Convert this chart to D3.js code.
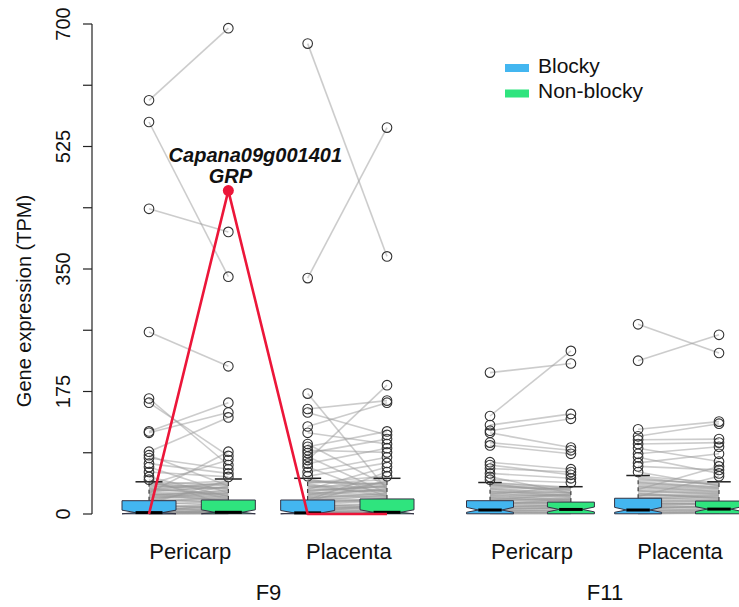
<!DOCTYPE html>
<html>
<head>
    <title>GRP expression</title>
    <script src="https://d3js.org/d3.v7.min.js"></script>
    <style>
        body { margin: 0; background: #fff; }
        text { font-family: "Liberation Sans", Arial, sans-serif; fill: #111; }
    </style>
</head>
<body>
    <svg id="chart" width="739" height="607"></svg>

    <script>

// paired TPM values per gene (index i = same gene in Blocky and Non-blocky)
var f9PericarpBlocky = [591, 560, 436, 260, 165, 159, 118, 116, 89, 84, 80, 72, 67, 60, 53, 49, 30, 42,
    0.5, 1, 2, 3, 1.5, 4, 5, 6, 8, 10, 12, 14, 16, 18, 20, 22, 25, 27, 30, 32, 35, 38, 40, 42, 44, 46,
    0.8, 2.5, 7, 9, 13, 24, 28, 34, 37, 11, 3.5, 19, 45, 15,
    0.2, 1.2, 4.5, 17, 21, 26, 31, 36, 41, 23, 29, 33];
var f9PericarpNonBlocky = [694, 339, 403, 211, 70, 83, 159, 145, 138, 40, 64, 58, 30, 53, 25, 12, 89, 77,
    1, 0.5, 3, 2, 4, 6, 3, 8, 5, 12, 9, 18, 13, 22, 16, 27, 20, 33, 24, 38, 29, 44, 35, 47, 36, 41,
    2, 1, 10, 15, 7, 31, 19, 45, 26, 2, 14, 40, 22, 48,
    0.8, 5, 1.5, 25, 17, 34, 28, 42, 37, 30, 21, 39];

var f9PlacentaBlocky = [672, 337, 172, 150, 145, 125, 116, 100, 96, 91, 87, 82, 77, 72, 67, 60, 54, 35, 20, 45,
    1, 0.5, 2, 3, 4, 2.5, 6, 5, 9, 11, 8, 14, 17, 13, 21, 19, 26, 23, 31, 28, 36, 33, 41, 38, 47, 44, 49,
    1.5, 7, 12, 16, 24, 30, 39, 10, 3, 27, 43, 18, 50,
    0.3, 2.2, 15, 22, 29, 34, 40, 46, 25, 32];
var f9PlacentaNonBlocky = [368, 552, 35, 162, 113, 159, 100, 40, 118, 88, 107, 30, 184, 94, 25, 81, 73, 67, 60, 54,
    0.5, 2, 1, 4, 3, 6, 5, 9, 7, 14, 12, 10, 21, 19, 17, 26, 23, 30, 27, 35, 32, 40, 37, 45, 42, 49, 38,
    3, 11, 8, 22, 18, 34, 29, 16, 13, 46, 25, 48, 31,
    1.2, 0.4, 20, 28, 24, 39, 33, 43, 36, 41];

var f11PericarpBlocky = [202, 140, 127, 119, 116, 102, 98, 74, 70, 65, 58, 53, 49,
    1, 2, 3, 5, 4, 6, 8, 7, 10, 12, 9, 15, 18, 14, 21, 24, 19, 27, 30, 26, 33, 36, 31, 40, 43, 38, 45,
    2.5, 11, 17, 23, 29, 35, 42, 6.5, 13, 20, 28,
    0.4, 16, 22, 25, 32, 37, 41, 44];
var f11PericarpNonBlocky = [215, 233, 143, 136, 95, 91, 86, 64, 56, 60, 51, 30, 45,
    0.5, 3, 2, 4, 6, 5, 7, 9, 8, 10, 13, 11, 14, 17, 15, 19, 22, 20, 24, 27, 25, 28, 31, 33, 30, 36, 38,
    1.5, 12, 16, 18, 23, 26, 35, 9.5, 21, 29, 39,
    1, 13, 18, 21, 26, 30, 34, 37];

var f11PlacentaBlocky = [271, 219, 121, 111, 106, 100, 94, 86, 81, 73, 68, 60, 35, 25,
    0.5, 2, 3, 4, 6, 5, 8, 10, 7, 13, 11, 16, 19, 15, 23, 21, 27, 30, 26, 34, 38, 32, 42, 46, 40, 50, 54,
    1.5, 9, 14, 18, 24, 29, 36, 48, 12, 22, 44,
    0.8, 17, 28, 33, 39, 45, 52];
var f11PlacentaNonBlocky = [230, 256, 132, 129, 107, 102, 75, 96, 58, 86, 63, 40, 68, 54,
    1, 3, 2, 5, 4, 7, 6, 9, 12, 10, 8, 14, 17, 13, 20, 18, 24, 22, 27, 30, 33, 29, 36, 39, 35, 42, 45,
    2.5, 11, 16, 19, 21, 26, 31, 44, 15, 25, 38,
    1.5, 14, 23, 28, 32, 37, 41];

// box statistics, boxes in order F9 Per B/NB, F9 Pla B/NB, F11 Per B/NB, F11 Pla B/NB
var boxQ1 = [0.3, 0.3, 0.3, 0.3, 0.3, 0.3, 0.3, 0.3];
var boxMedian = [2.0, 2.4, 1.6, 2.4, 5.7, 6.5, 5.7, 7.0];
var boxQ3 = [19, 20, 20, 21.5, 19, 17, 22.5, 18.5];
var boxWhisker = [46, 50, 51, 51, 45, 39, 55, 46];
var notchLo = [0.3, 0.3, 0.3, 0.3, 2.4, 3.0, 2.4, 3.5];
var notchHi = [5.5, 6.0, 5.0, 6.0, 9.5, 10.0, 9.5, 10.5];

// highlighted gene, F9 Pericarp B, Pericarp NB, Placenta B, Placenta NB
var grpGene = ["Capana09g001401", "GRP"];
var grpValues = [0, 462, 0, 0];

var families = ["F9", "F11"];
var tissues = ["Pericarp", "Placenta"];
var genotypes = ["Blocky", "Non-blocky"];
var yTicks = [0, 175, 350, 525, 700];

var colors = { "Blocky": "#43b6f0", "Non-blocky": "#2fe47e" };

var pairs = [
    [f9PericarpBlocky, f9PericarpNonBlocky],
    [f9PlacentaBlocky, f9PlacentaNonBlocky],
    [f11PericarpBlocky, f11PericarpNonBlocky],
    [f11PlacentaBlocky, f11PlacentaNonBlocky]
];

// layout: two panels, positions like R's boxplot(at=...)
var panels = [
    { family: "F9", at: [1, 2, 3, 4], range: [149, 387], boxW: 54 },
    { family: "F11", at: [1, 2.06, 2.94, 4], range: [490, 719], boxW: 47 }
];

var svg = d3.select("#chart");
var y = d3.scaleLinear().domain([0, 700]).range([514, 24]);

// y axis
var yAxis = svg.append("g").attr("transform", "translate(92,0)");
yAxis.append("line").attr("x1", 0).attr("x2", 0).attr("y1", y(0)).attr("y2", y(700))
    .attr("stroke", "#222").attr("stroke-width", 1.2);
yAxis.selectAll(".tk").data(d3.range(0, 701, 87.5)).enter().append("line")
    .attr("x1", -9).attr("x2", 0).attr("y1", function (d) { return y(d) }).attr("y2", function (d) { return y(d) })
    .attr("stroke", "#222").attr("stroke-width", 1.2);
yAxis.selectAll("text").data(yTicks).enter().append("text")
    .attr("transform", function (d) { return "translate(-22," + y(d) + ") rotate(-90)" })
    .attr("text-anchor", "middle").attr("font-size", 20)
    .text(function (d) { return d });

svg.append("text").attr("transform", "translate(31,301) rotate(-90)")
    .attr("text-anchor", "middle").attr("font-size", 20)
    .text("Gene expression (TPM)");

var boxIndex = 0;
var centers = [];
panels.forEach(function (p, pi) {
    var x = d3.scaleLinear().domain([1, 4]).range(p.range);
    var xs = p.at.map(function (a) { return x(a) });
    var g = svg.append("g");

    // gene lines
    tissues.forEach(function (t, ti) {
        var pr = pairs[pi * 2 + ti];
        var x0 = xs[ti * 2], x1 = xs[ti * 2 + 1];
        g.append("g").selectAll("line").data(d3.range(pr[0].length)).enter().append("line")
            .attr("x1", x0).attr("x2", x1)
            .attr("y1", function (i) { return y(pr[0][i]) })
            .attr("y2", function (i) { return y(pr[1][i]) })
            .attr("stroke", "#9a9a9a").attr("stroke-opacity", 0.5).attr("stroke-width", 1.6);
    });

    // boxes
    tissues.forEach(function (t, ti) {
        genotypes.forEach(function (gt, gi) {
            var k = boxIndex++;
            var cx = xs[ti * 2 + gi];
            var hw = p.boxW / 2, qw = p.boxW / 4;
            centers.push(cx);

            g.append("line").attr("x1", cx).attr("x2", cx)
                .attr("y1", y(boxQ3[k])).attr("y2", y(boxWhisker[k]))
                .attr("stroke", "#222").attr("stroke-dasharray", "4,3").attr("stroke-width", 1);
            g.append("line").attr("x1", cx - qw).attr("x2", cx + qw)
                .attr("y1", y(boxWhisker[k])).attr("y2", y(boxWhisker[k]))
                .attr("stroke", "#222").attr("stroke-width", 1.5);

            var pts = [
                [cx - hw, boxQ1[k]], [cx - hw, notchLo[k]], [cx - qw, boxMedian[k]], [cx - hw, notchHi[k]],
                [cx - hw, boxQ3[k]], [cx + hw, boxQ3[k]], [cx + hw, notchHi[k]], [cx + qw, boxMedian[k]],
                [cx + hw, notchLo[k]], [cx + hw, boxQ1[k]]
            ];
            g.append("path")
                .attr("d", d3.line().x(function (d) { return d[0] }).y(function (d) { return y(d[1]) })(pts) + "Z")
                .attr("fill", colors[gt]).attr("stroke", "#334").attr("stroke-width", 1);
            g.append("line").attr("x1", cx - qw).attr("x2", cx + qw)
                .attr("y1", y(boxMedian[k])).attr("y2", y(boxMedian[k]))
                .attr("stroke", "#000").attr("stroke-width", 3);

            var vals = pairs[pi * 2 + ti][gi].filter(function (v) { return v > boxWhisker[k] });
            g.append("g").selectAll("circle").data(vals).enter().append("circle")
                .attr("cx", cx).attr("cy", function (d) { return y(d) }).attr("r", 4.8)
                .attr("fill", "none").attr("stroke", "#333").attr("stroke-width", 1.1);
        });

        svg.append("text").attr("x", (xs[ti * 2] + xs[ti * 2 + 1]) / 2 + 1.5).attr("y", 559)
            .attr("text-anchor", "middle").attr("font-size", 22).text(t);
    });

    svg.append("text").attr("x", (xs[0] + xs[1] + xs[2] + xs[3]) / 4 + 0.5).attr("y", 600)
        .attr("text-anchor", "middle").attr("font-size", 22).text(p.family);
});

// highlighted gene in red
var redPts = grpValues.map(function (v, i) { return [centers[i], y(v)] });
svg.append("path").attr("d", d3.line()(redPts))
    .attr("fill", "none").attr("stroke", "#ec1639").attr("stroke-width", 2.6).attr("stroke-linejoin", "round");
svg.append("circle").attr("cx", centers[1]).attr("cy", y(grpValues[1])).attr("r", 5.5).attr("fill", "#ec1639");
svg.append("text").attr("x", centers[1] + 27).attr("y", y(grpValues[1]) - 29)
    .attr("text-anchor", "middle").attr("font-size", 20).attr("font-weight", "bold").attr("font-style", "italic")
    .text(grpGene[0]);
svg.append("text").attr("x", centers[1] + 2).attr("y", y(grpValues[1]) - 8)
    .attr("text-anchor", "middle").attr("font-size", 20).attr("font-weight", "bold").attr("font-style", "italic")
    .text(grpGene[1]);

// legend
var legend = svg.append("g").attr("transform", "translate(505,64)");
genotypes.forEach(function (gt, i) {
    legend.append("rect").attr("x", 0).attr("y", i * 25.5).attr("width", 24).attr("height", 8).attr("fill", colors[gt]);
    legend.append("text").attr("x", 33).attr("y", i * 25.5 + 8.5).attr("font-size", 21).text(gt);
});

    </script>
</body>
</html>
